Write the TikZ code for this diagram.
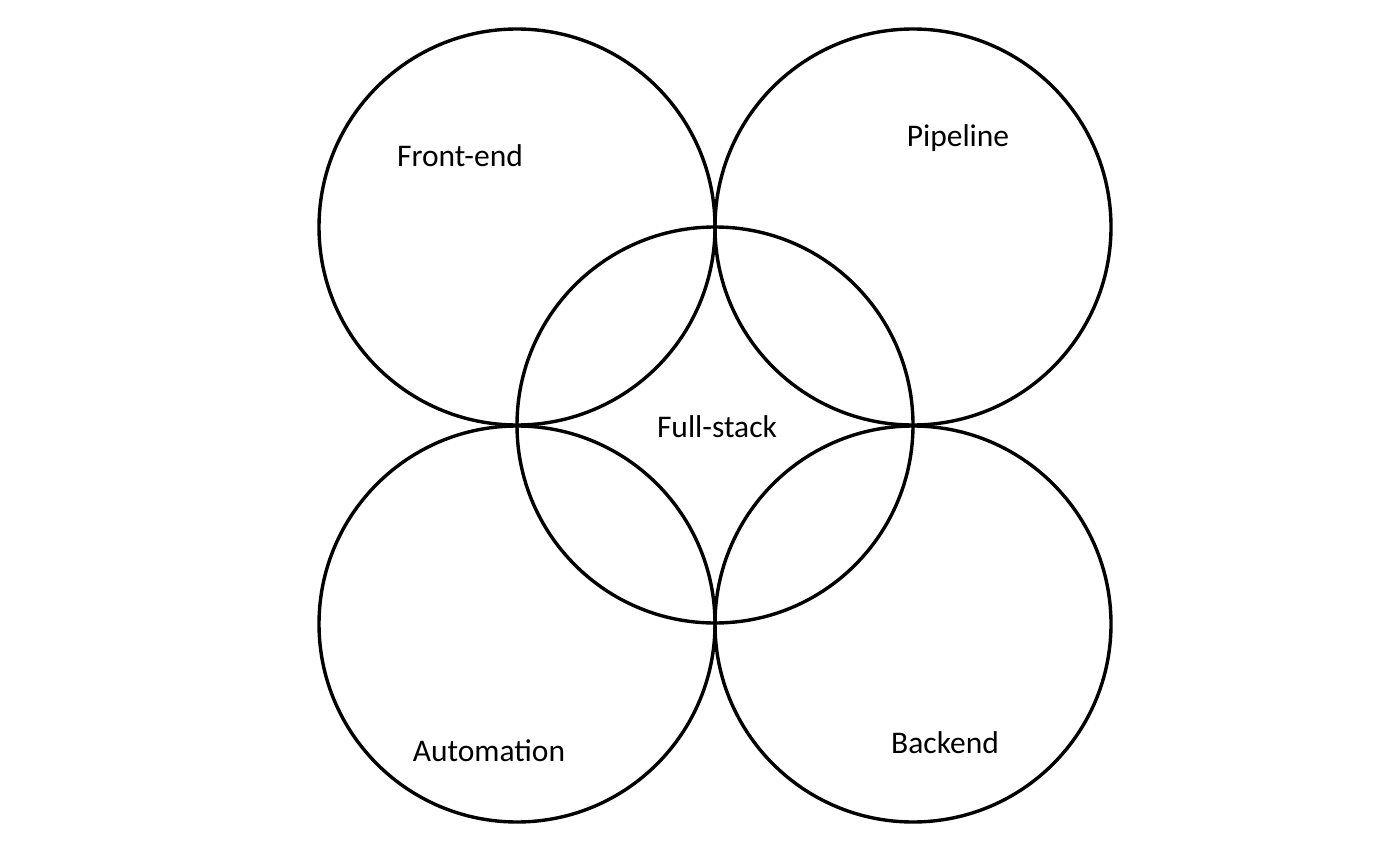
\documentclass[tikz,border=0pt]{standalone}
\usepackage{fontspec}
\setmainfont{Carlito}
\begin{document}
\begin{tikzpicture}[x=1pt,y=-1pt,
  ring/.style={circle,draw=black,line width=3.4pt,minimum size=396pt,inner sep=0pt},
  lbl/.style={font=\fontsize{31.5}{38}\selectfont,inner sep=0pt}]
\useasboundingbox (0,0) rectangle (1400,850);
\node[ring] (fe) at (517,227) {};
\node[ring] (pl) at (913,227) {};
\node[ring] (au) at (517,624) {};
\node[ring] (be) at (913,624) {};
\node[ring] (fs) at (715,425) {};
\node[lbl] (tfe) at (460,156) {Front-end};
\node[lbl] (tpl) at (958,138) {Pipeline};
\node[lbl] (tfs) at (717,427) {Full-stack};
\node[lbl] (tau) at (489,751) {Automation};
\node[lbl] (tbe) at (945,743) {Backend};
\end{tikzpicture}
\end{document}
